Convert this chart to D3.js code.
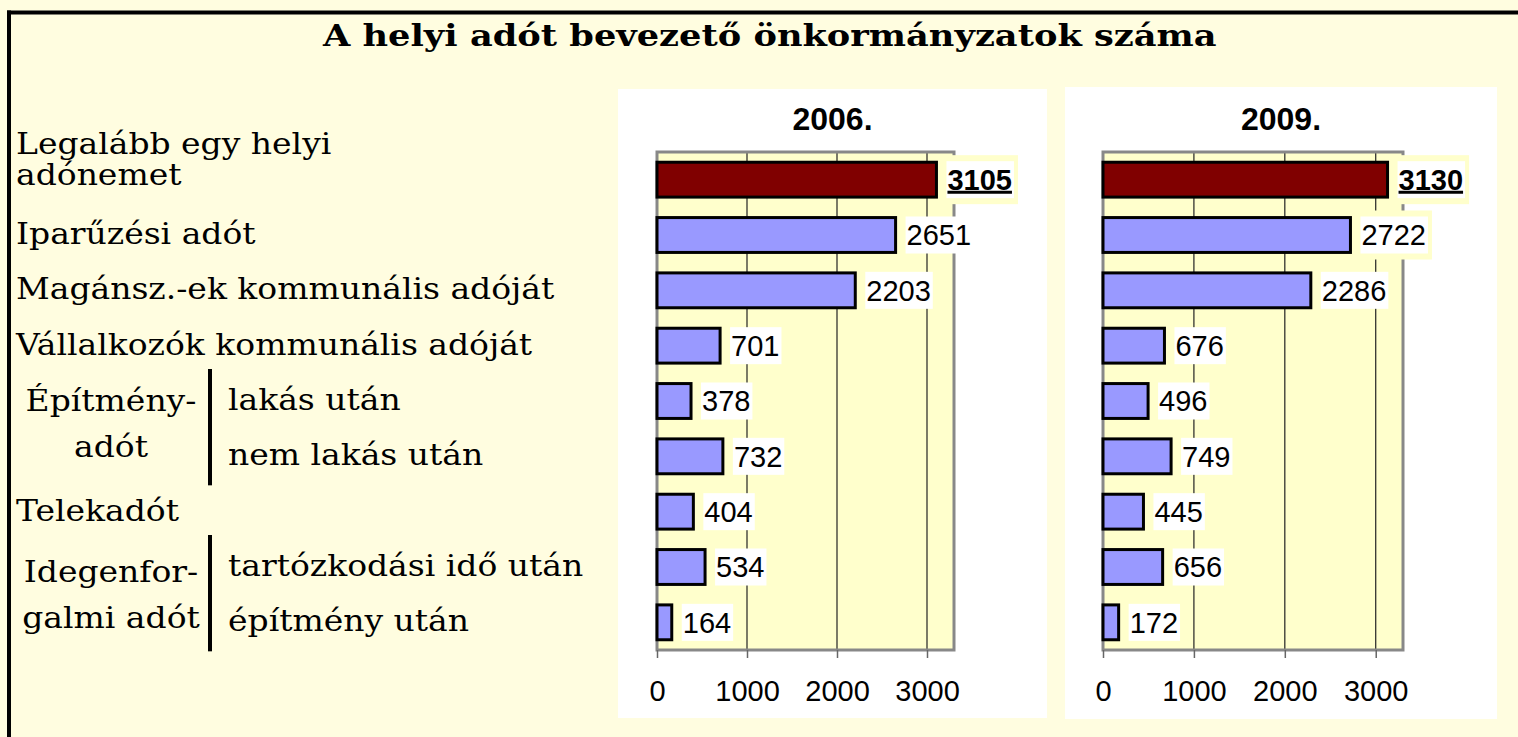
<!DOCTYPE html>
<html>
<head>
<meta charset="utf-8">
<script src="https://cdn.jsdelivr.net/npm/d3@7"></script>
<style>
  html, body { margin: 0; padding: 0; background: #FFFDE0; overflow: hidden; }
  svg { display: block; }
</style>
</head>
<body>
<svg id="chart" width="1518" height="737"></svg>
<script>
// ---------------- DATA ----------------
const title = "A helyi adót bevezető önkormányzatok száma";
const categories = [
  "Legalább egy helyi adónemet",
  "Iparűzési adót",
  "Magánsz.-ek kommunális adóját",
  "Vállalkozók kommunális adóját",
  "Építményadót – lakás után",
  "Építményadót – nem lakás után",
  "Telekadót",
  "Idegenforgalmi adót – tartózkodási idő után",
  "Idegenforgalmi adót – építmény után"
];
const rowLabelLines = [
  ["Legalább egy helyi", "adónemet"],
  ["Iparűzési adót"],
  ["Magánsz.-ek kommunális adóját"],
  ["Vállalkozók kommunális adóját"],
  ["lakás után"],
  ["nem lakás után"],
  ["Telekadót"],
  ["tartózkodási idő után"],
  ["építmény után"]
];
const groupNames = [["Építmény-", "adót"], ["Idegenfor-", "galmi adót"]];
const groupRows = [[4, 5], [7, 8]];
const panelYears = ["2006.", "2009."];
const values2006 = [3105, 2651, 2203, 701, 378, 732, 404, 534, 164];
const values2009 = [3130, 2722, 2286, 676, 496, 749, 445, 656, 172];
const tickValues = [0, 1000, 2000, 3000];
const axisMax = 3300;

// ---------------- LAYOUT ----------------
const svg = d3.select("#chart");
const W = 1518, H = 737;
svg.append("rect").attr("width", W).attr("height", H).attr("fill", "#FFFDE0");

// outer frame (top + left)
svg.append("line").attr("x1", 7).attr("x2", W).attr("y1", 12.5).attr("y2", 12.5)
  .attr("stroke", "#000").attr("stroke-width", 4);
svg.append("line").attr("x1", 9).attr("x2", 9).attr("y1", 10.5).attr("y2", H)
  .attr("stroke", "#000").attr("stroke-width", 4);

// horizontally stretched text helper
function stretchedText(parent, x, y, str, sx, anchor) {
  const g = parent.append("g").attr("transform", `translate(${x},${y}) scale(${sx},1)`);
  return g.append("text").attr("x", 0).attr("y", 0)
    .attr("text-anchor", anchor || "start").text(str);
}

// title (fit to target width)
{
  const tg = svg.append("g").attr("font-family", "'DejaVu Serif', serif")
    .attr("font-weight", "bold").attr("font-size", 30).attr("fill", "#000");
  const t = stretchedText(tg, 323, 46, title, 1);
  const w = t.node().getComputedTextLength();
  t.node().parentNode.setAttribute("transform", `translate(323,46) scale(${894 / w},1)`);
}

const plotTop = 152, plotBottom = 650;
const y = d3.scaleBand().domain(categories).range([plotTop, plotBottom])
  .paddingInner(0.37).paddingOuter(0.185);

const panels = [
  { year: panelYears[0], values: values2006, bg: [618, 89, 1047, 718], x0: 657, x1: 954, halo: [0] },
  { year: panelYears[1], values: values2009, bg: [1065, 87, 1497, 719], x0: 1103, x1: 1403, halo: [0, 1] }
];

const labelFont = "'Liberation Sans', Arial, sans-serif";
const valueSize = 29;

panels.forEach(p => {
  const g = svg.append("g");
  g.append("rect").attr("x", p.bg[0]).attr("y", p.bg[1])
    .attr("width", p.bg[2] - p.bg[0]).attr("height", p.bg[3] - p.bg[1]).attr("fill", "#FFFFFF");

  const x = d3.scaleLinear().domain([0, axisMax]).range([p.x0, p.x1]);

  g.append("text").attr("x", (p.bg[0] + p.bg[2]) / 2).attr("y", 130)
    .attr("text-anchor", "middle").attr("font-family", labelFont)
    .attr("font-weight", "bold").attr("font-size", 32).text(p.year);

  g.append("rect").attr("x", x(0)).attr("y", plotTop)
    .attr("width", x(axisMax) - x(0)).attr("height", plotBottom - plotTop)
    .attr("fill", "#FFFFCC");

  g.selectAll(".grid").data(tickValues.filter(t => t > 0)).join("line")
    .attr("x1", d => x(d)).attr("x2", d => x(d))
    .attr("y1", plotTop).attr("y2", plotBottom)
    .attr("stroke", "#222").attr("stroke-width", 1.2);

  g.append("rect").attr("x", x(0)).attr("y", plotTop)
    .attr("width", x(axisMax) - x(0)).attr("height", plotBottom - plotTop)
    .attr("fill", "none").attr("stroke", "#888").attr("stroke-width", 3);

  const axis = d3.axisBottom(x).tickValues(tickValues).tickSize(8).tickPadding(22)
    .tickFormat(d3.format("d"));
  const ag = g.append("g").attr("transform", `translate(0,${plotBottom})`).call(axis);
  ag.select(".domain").remove();
  ag.selectAll(".tick line").attr("stroke", "#666").attr("stroke-width", 1.5);
  ag.selectAll(".tick text").attr("font-family", labelFont).attr("font-size", valueSize)
    .attr("fill", "#000");

  g.selectAll(".bar").data(p.values).join("rect")
    .attr("x", x(0)).attr("y", (d, i) => y(categories[i]))
    .attr("width", d => x(d) - x(0)).attr("height", y.bandwidth())
    .attr("fill", (d, i) => i === 0 ? "#800000" : "#9999FF")
    .attr("stroke", "#000").attr("stroke-width", 3);

  p.values.forEach((v, i) => {
    const cy = y(categories[i]) + y.bandwidth() / 2;
    const tx = x(v) + 11;
    const lg = g.append("g");
    const t = lg.append("text").attr("x", tx).attr("y", cy + valueSize * 0.36)
      .attr("font-family", labelFont).attr("font-size", valueSize)
      .attr("font-weight", i === 0 ? "bold" : "normal")
      .text(v);
    const bb = t.node().getBBox();
    const bx = bb.x - 1, bw = bb.width + 3, by = cy - 18.5, bh = 37;
    if (p.halo.includes(i)) {
      lg.insert("rect", "text").attr("x", bx - 4).attr("y", by - 6)
        .attr("width", bw + 8).attr("height", bh + 12).attr("fill", "#FFFFCC");
    }
    lg.insert("rect", "text").attr("x", bx).attr("y", by)
      .attr("width", bw).attr("height", bh).attr("fill", "#FFFFFF");
    if (i === 0) {
      lg.append("line").attr("x1", bb.x).attr("x2", bb.x + bb.width)
        .attr("y1", cy + 12.5).attr("y2", cy + 12.5).attr("stroke", "#000").attr("stroke-width", 3);
    }
  });
});

// ---------------- LEFT LABELS ----------------
const leftSX = 1.1;
const lg = svg.append("g").attr("font-family", "'DejaVu Serif', serif")
  .attr("font-size", 30).attr("fill", "#000");
const rowCenter = i => y(categories[i]) + y.bandwidth() / 2;
const subRows = new Set(groupRows.flat());

rowLabelLines.forEach((lines, i) => {
  const cx = subRows.has(i) ? 228 : 16;
  if (lines.length === 2) {
    stretchedText(lg, cx, rowCenter(i) - 26, lines[0], leftSX);
    stretchedText(lg, cx, rowCenter(i) + 5, lines[1], leftSX);
  } else {
    stretchedText(lg, cx, rowCenter(i) + 9, lines[0], leftSX);
  }
});

const groupOffsets = [[-18, 28], [-13, 33]];
groupRows.forEach((rows, gi) => {
  const mid = (rowCenter(rows[0]) + rowCenter(rows[1])) / 2;
  groupNames[gi].forEach((line, li) => {
    stretchedText(lg, 111, mid + groupOffsets[gi][li], line, leftSX, "middle");
  });
  svg.append("line").attr("x1", 210).attr("x2", 210)
    .attr("y1", rowCenter(rows[0]) - 32).attr("y2", rowCenter(rows[1]) + 29)
    .attr("stroke", "#000").attr("stroke-width", 4);
});
</script>
</body>
</html>
